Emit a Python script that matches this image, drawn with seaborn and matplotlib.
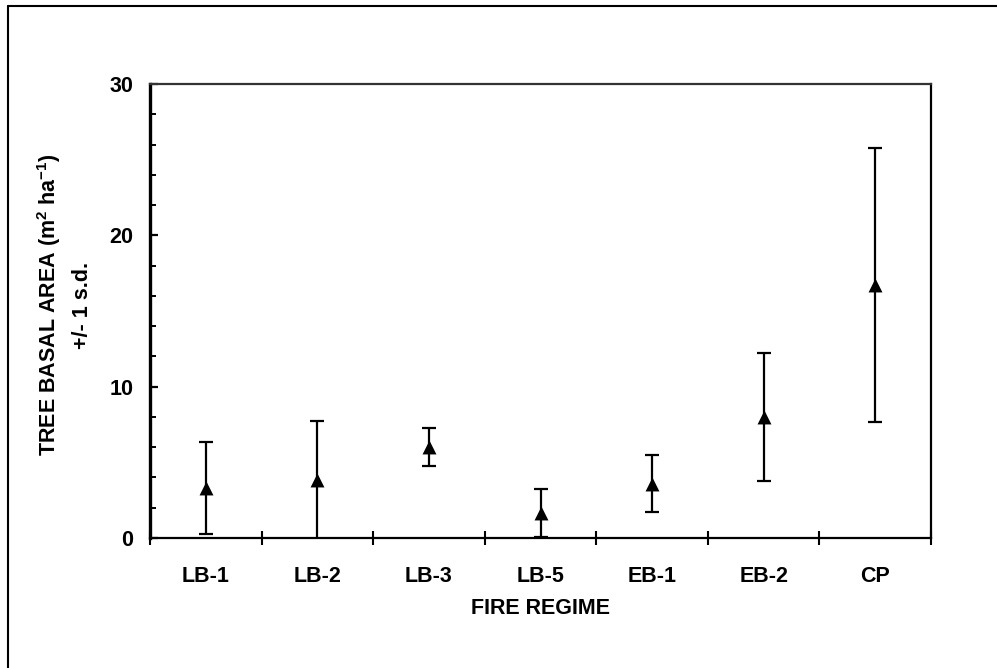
import matplotlib
matplotlib.use("Agg")
import matplotlib.pyplot as plt
import seaborn as sns
import pandas as pd
import numpy as np
from matplotlib.ticker import MultipleLocator, FixedLocator, NullFormatter
from matplotlib.lines import Line2D

# ---- data ----
categories = ["LB-1", "LB-2", "LB-3", "LB-5", "EB-1", "EB-2", "CP"]
mean_basal_area = [3.3, 3.8, 6.0, 1.65, 3.6, 8.0, 16.7]
sd_basal_area = [3.05, 3.95, 1.25, 1.6, 1.9, 4.25, 9.05]
y_ticks = [0, 10, 20, 30]
x_title = "FIRE REGIME"
y_title_1 = r"TREE BASAL AREA (m$^{2}$ ha$^{-1}$)"
y_title_2 = "+/- 1 s.d."

sns.set_theme(style="white")
plt.rcParams['font.family'] = ['Liberation Sans', 'DejaVu Sans']
plt.rcParams['text.color'] = 'black'
plt.rcParams['mathtext.fontset'] = 'custom'
plt.rcParams['mathtext.rm'] = 'Liberation Sans:bold'
plt.rcParams['mathtext.it'] = 'Liberation Sans:bold'
plt.rcParams['mathtext.bf'] = 'Liberation Sans:bold'
plt.rcParams['mathtext.default'] = 'bf'

FS = 15.5
W, H = 997, 668
fig = plt.figure(figsize=(W / 100, H / 100), dpi=100)
fig.patch.set_facecolor("white")
ax = fig.add_axes([150 / W, (H - 538) / H, (931 - 150) / W, (538 - 84) / H])
ax.set_facecolor("white")

df = pd.DataFrame({"regime": categories, "mean": mean_basal_area, "sd": sd_basal_area})

ax.errorbar(df["regime"], df["mean"], yerr=df["sd"], fmt="none", ecolor="black",
            elinewidth=1.6, capsize=4.8, capthick=1.6, zorder=2)
sns.scatterplot(data=df, x="regime", y="mean", marker="^", color="black", s=100,
                edgecolor="black", linewidth=0, ax=ax, zorder=3, legend=False)

n = len(categories)
ax.set_xlim(-0.5, n - 0.5)
ax.set_ylim(y_ticks[0], y_ticks[-1])

# x ticks: labels at centres, tick marks at boundaries
ax.xaxis.set_major_locator(FixedLocator(np.arange(n)))
ax.set_xticklabels(categories)
ax.xaxis.set_minor_locator(FixedLocator(np.arange(n + 1) - 0.5))
ax.tick_params(axis="x", which="major", length=0, pad=20, labelsize=FS, labelcolor="black")
ax.tick_params(axis="x", which="minor", direction="inout", length=10, width=1.5,
               color="black", bottom=True)

# y ticks
ax.yaxis.set_major_locator(FixedLocator(y_ticks))
ax.yaxis.set_minor_locator(MultipleLocator(2))
ax.yaxis.set_minor_formatter(NullFormatter())
ax.tick_params(axis="y", which="major", direction="in", length=6, width=1.6, pad=12,
               labelsize=FS, labelcolor="black", color="black", left=True)
ax.tick_params(axis="y", which="minor", direction="in", length=4.5, width=1.4,
               color="black", left=True)
for lab in ax.get_xticklabels() + ax.get_yticklabels():
    lab.set_fontweight("bold")

for s in ["top", "right", "bottom", "left"]:
    ax.spines[s].set_visible(True)
    ax.spines[s].set_color("black")
    ax.spines[s].set_linewidth(1.6)
ax.spines["left"].set_linewidth(2.4)
ax.spines["top"].set_color("#333333")
ax.set_xlabel("")
ax.set_ylabel("")
ax.grid(False)

# axis titles
fig.text(540 / W, 1 - 608 / H, x_title, ha="center", va="center",
         fontsize=FS, fontweight="bold", color="black")
fig.text(49 / W, 1 - 305 / H, y_title_1, rotation=90, ha="center", va="center",
         fontsize=FS, fontweight="bold", color="black")
fig.text(83 / W, 1 - 305 / H, y_title_2, rotation=90, ha="center", va="center",
         fontsize=FS, fontweight="bold", color="black")

# outer frame (left and top edges visible)
fig.add_artist(Line2D([8 / W, 8 / W], [0, 1 - 6 / H], transform=fig.transFigure,
                      color="black", linewidth=1.5))
fig.add_artist(Line2D([8 / W, 1], [1 - 6 / H, 1 - 6 / H], transform=fig.transFigure,
                      color="black", linewidth=1.5))

fig.savefig("out.png", dpi=100, facecolor="white")
